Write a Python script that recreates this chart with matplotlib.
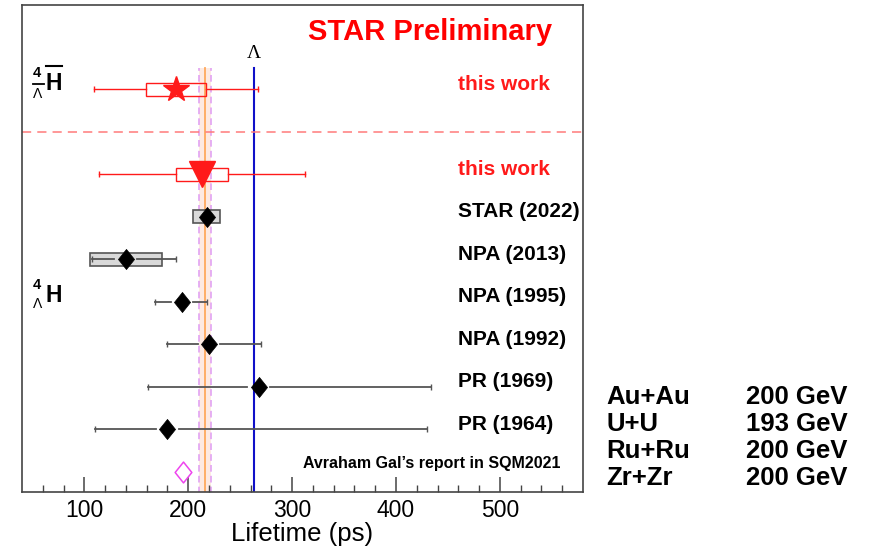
import matplotlib
matplotlib.use('Agg')
import matplotlib.pyplot as plt
from matplotlib.path import Path
from matplotlib.patches import Rectangle
from matplotlib.lines import Line2D

plt.rcParams['font.family'] = ['Liberation Sans', 'DejaVu Sans']

W, H = 871, 547

# lifetime measurements, top to bottom
labels = ['this work', 'this work', 'STAR (2022)', 'NPA (2013)',
          'NPA (1995)', 'NPA (1992)', 'PR (1969)', 'PR (1964)']
ypos = [9, 7, 6, 5, 4, 3, 2, 1]
tau = [188, 213, 218, 140, 194, 220, 268, 180]
stat_lo = [79, 99, 6, 33, 26, 40, 107, 70]
stat_hi = [79, 99, 6, 48, 24, 50, 166, 250]
sys_err = [29, 25, 13, 35, 0, 0, 0, 0]

lam_tau = 263.2      # free Lambda lifetime
avg_tau = 216.0      # average with band
avg_err = 6.0
gal_tau = 195.0      # Avraham Gal's report

systems = ['Au+Au', 'U+U', 'Ru+Ru', 'Zr+Zr']
energies = ['200 GeV', '193 GeV', '200 GeV', '200 GeV']

RED = '#ff1a1a'
GRAY = '#555555'


def fxy(x, y):
    # pixel position -> figure fraction
    return x / W, 1 - y / H


diamond = Path([(0, 0.5), (0.4, 0), (0, -0.5), (-0.4, 0), (0, 0.5)],
               [Path.MOVETO, Path.LINETO, Path.LINETO, Path.LINETO, Path.CLOSEPOLY])

fig = plt.figure(figsize=(W / 100, H / 100), dpi=100)
ax = fig.add_axes([22 / W, 1 - 492 / H, (583 - 22) / W, (492 - 5) / H])
ax.set_xlim(40, 580)
ax.set_ylim(-0.47, 10.98)

# reference lines
ytop = 9.5
ax.fill_betweenx([ax.get_ylim()[0], ytop], avg_tau - avg_err, avg_tau + avg_err,
                 color='#fdeae2', lw=0, zorder=0)
ax.plot([avg_tau, avg_tau], [-1, ytop], color='#ffa95c', lw=1.3, zorder=1)
for xv in (avg_tau - avg_err, avg_tau + avg_err):
    ax.plot([xv, xv], [-1, ytop], color='#e2a2f2', lw=1.2,
            ls=(0, (4, 2.5)), zorder=1)
ax.plot([lam_tau, lam_tau], [-1, ytop], color='#1010c8', lw=1.5, zorder=1)
ax.text(lam_tau, 9.84, '\u039b', family=['Liberation Serif'], fontsize=14,
        ha='center', va='center')
ax.axhline(8, color='#ff7b7b', lw=1.1, ls=(0, (6, 4)), zorder=1)

half_box = 0.153
mgap = 11
for i in range(len(labels)):
    y = ypos[i]
    red = labels[i] == 'this work'
    col = RED if red else GRAY
    lo = tau[i] - stat_lo[i]
    hi = tau[i] + stat_hi[i]
    s = sys_err[i]
    if red:
        gap_l, gap_r = tau[i] - s, tau[i] + s
        ax.add_patch(Rectangle((tau[i] - s, y - half_box), 2 * s, 2 * half_box,
                               fill=False, ec=RED, lw=1.0, zorder=2))
    else:
        gap_l, gap_r = tau[i] - mgap, tau[i] + mgap
        if s > 0:
            ax.add_patch(Rectangle((tau[i] - s, y - half_box), 2 * s, 2 * half_box,
                                   fc='#d9d9d9', ec=GRAY, lw=1.2, zorder=2))
    lw = 1.0 if red else 1.3
    if lo < gap_l:
        ax.plot([lo, gap_l], [y, y], color=col, lw=lw, zorder=3)
        ax.plot([lo], [y], marker='|', ms=4.5, mew=1, color=col, zorder=3)
    if hi > gap_r:
        ax.plot([gap_r, hi], [y, y], color=col, lw=lw, zorder=3)
        ax.plot([hi], [y], marker='|', ms=4.5, mew=1, color=col, zorder=3)

    if i == 0:
        ax.plot(tau[i], y, marker='*', ms=19, color=RED, mec=RED, zorder=4)
    elif i == 1:
        ax.plot(tau[i], y, marker='v', ms=18.5, color=RED, mec=RED, zorder=4)
    else:
        ax.plot(tau[i], y, marker=diamond, ms=14.5, color='black', mec='black',
                mew=0.5, zorder=4)
    ax.text(460, y + 0.12, labels[i], fontsize=15, fontweight='bold',
            color=RED if red else 'black', ha='left', va='center')

ax.plot(gal_tau, 0, marker=diamond, ms=15, mfc='none', mec='#ee44ee',
        mew=1.1, zorder=4)
ax.text(310.5, 0.19, 'Avraham Gal\u2019s report in SQM2021', fontsize=11.5,
        fontweight='bold', ha='left', va='center')
ax.text(315, 10.34, 'STAR Preliminary', fontsize=21, fontweight='bold',
        color='#ff0000', ha='left', va='center')

# axis styling
for side in ('left', 'right', 'top', 'bottom'):
    ax.spines[side].set_color('#444444')
    ax.spines[side].set_linewidth(1.2)
ax.set_yticks([])
ax.set_xticks([100, 200, 300, 400, 500])
ax.set_xticks(range(60, 580, 20), minor=True)
ax.tick_params(axis='x', which='major', direction='in', length=10.8, width=1.1,
               color='#444444', labelsize=16.5, pad=5)
ax.tick_params(axis='x', which='minor', direction='in', length=5, width=1.0,
               color='#444444')
ax.set_xlabel('Lifetime (ps)', fontsize=18.5, labelpad=0)

# hypertriton-4 labels on the left
fig.text(*fxy(33, 77), '4', fontsize=10.5, fontweight='bold', ha='left', va='baseline')
fig.text(*fxy(32.5, 97.5), '\u039b', fontsize=10, ha='left', va='baseline')
fig.text(*fxy(45, 89.5), 'H', fontsize=16.5, fontweight='bold', ha='left', va='baseline')
fig.add_artist(Line2D([33 / W, 44 / W], [1 - 84 / H] * 2, color='black', lw=1.3))
fig.add_artist(Line2D([46 / W, 62 / W], [1 - 66 / H] * 2, color='black', lw=1.5))

fig.text(*fxy(33, 289), '4', fontsize=10.5, fontweight='bold', ha='left', va='baseline')
fig.text(*fxy(32.5, 307.5), '\u039b', fontsize=10, ha='left', va='baseline')
fig.text(*fxy(45, 301.5), 'H', fontsize=16.5, fontweight='bold', ha='left', va='baseline')

# collision systems
for k in range(len(systems)):
    yk = 397 + 27 * k
    fig.text(*fxy(606, yk), systems[k], fontsize=18.5, fontweight='bold',
             ha='left', va='center')
    fig.text(*fxy(746, yk), energies[k], fontsize=18.5, fontweight='bold',
             ha='left', va='center')

fig.savefig('out.png', dpi=100)
